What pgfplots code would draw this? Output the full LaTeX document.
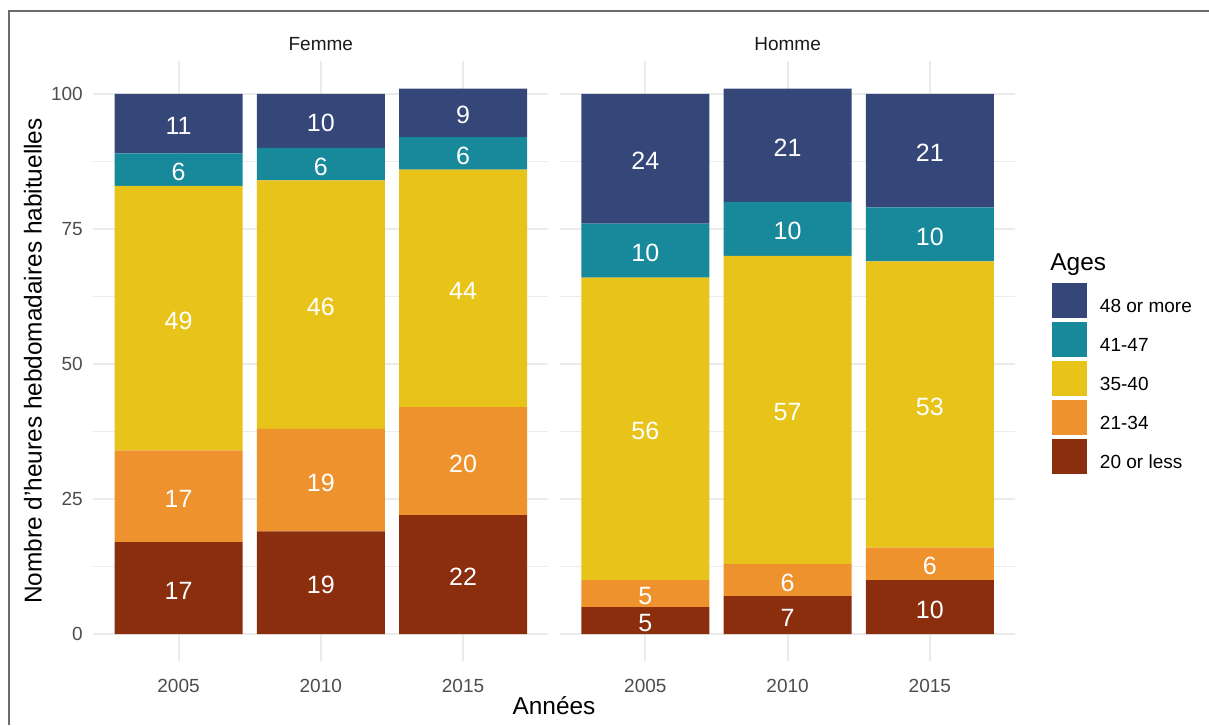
\documentclass[border=0pt]{standalone}
\usepackage{fontspec}
\setmainfont{Liberation Sans}
\usepackage{pgfplots}
\usepackage{pgfplotstable}
\pgfplotsset{compat=1.18}
\definecolor{cE}{HTML}{344778}
\definecolor{cD}{HTML}{17899A}
\definecolor{cC}{HTML}{E8C31A}
\definecolor{cB}{HTML}{EE922E}
\definecolor{cA}{HTML}{8A2E0E}
\definecolor{gridc}{HTML}{EBEBEB}
\definecolor{tickc}{HTML}{4D4D4D}
\definecolor{stripc}{HTML}{1A1A1A}
\definecolor{framec}{HTML}{6B6B6B}

% a = 20 or less, b = 21-34, c = 35-40, d = 41-47, e = 48 or more
\pgfplotstableread{
x a b c d e
1 17 17 49 6 11
2 19 19 46 6 10
3 22 20 44 6 9
}\femme
\pgfplotstableread{
x a b c d e
1 5 5 56 10 24
2 7 6 57 10 21
3 10 6 53 10 21
}\homme

\newcommand\addmids[1]{%
\pgfplotstablecreatecol[create col/expr={\thisrow{a}/2}]{ma}#1%
\pgfplotstablecreatecol[create col/expr={\thisrow{a}+\thisrow{b}/2}]{mb}#1%
\pgfplotstablecreatecol[create col/expr={\thisrow{a}+\thisrow{b}+\thisrow{c}/2}]{mc}#1%
\pgfplotstablecreatecol[create col/expr={\thisrow{a}+\thisrow{b}+\thisrow{c}+\thisrow{d}/2}]{md}#1%
\pgfplotstablecreatecol[create col/expr={\thisrow{a}+\thisrow{b}+\thisrow{c}+\thisrow{d}+\thisrow{e}/2}]{me}#1%
}
\addmids\femme
\addmids\homme

\pgfplotsset{
  panel/.style={
    scale only axis, width=227.6pt, height=300pt,
    xmin=0.4, xmax=3.6, ymin=-5.05, ymax=106.05,
    xtick={1,2,3}, xticklabels={2005,2010,2015},
    ytick={0,25,50,75,100}, minor ytick={12.5,37.5,62.5,87.5},
    grid=both,
    major grid style={gridc, line width=1pt},
    minor grid style={gridc, line width=0.5pt},
    axis line style={draw=none},
    major tick length=0pt, minor tick length=0pt,
    tick style={draw=none},
    tick label style={font=\fontsize{9.5}{11}\selectfont, text=tickc, inner sep=0pt},
    xticklabel style={yshift=-8.8pt},
    yticklabel style={xshift=-5pt},
    /pgf/number format/assume math mode=true,
    title style={font=\fontsize{9.5}{11}\selectfont, text=stripc, at={(0.5,1)}, anchor=center, yshift=2.65pt, inner sep=0pt},
    ybar stacked, bar width=0.9,
  },
  sqlegend/.style={legend image code/.code={\fill[##1,draw=none] (0pt,-5.35pt) rectangle (17.5pt,12.15pt);}},
  labels/.style={
    scale only axis, width=227.6pt, height=300pt,
    xmin=0.4, xmax=3.6, ymin=-5.05, ymax=106.05,
    hide axis,
    nodes near coords, point meta=explicit symbolic,
    every node near coord/.append style={text=white, anchor=center, inner sep=0pt, yshift=-1.2pt, font=\fontsize{12.5}{14}\selectfont},
  },
}

\begin{document}
\begin{tikzpicture}
\path[use as bounding box] (0pt,0pt) rectangle (604.5pt,362.5pt);
\draw[framec, line width=1pt] (4.6pt,0pt) -- (4.6pt,357pt) -- (604.5pt,357pt);

% Femme panel
\begin{axis}[panel, at={(46.6pt,31.85pt)}, anchor=south west, title=Femme]
\addplot[fill=cA, draw=none] table[x=x,y=a]{\femme};
\addplot[fill=cB, draw=none] table[x=x,y=b]{\femme};
\addplot[fill=cC, draw=none] table[x=x,y=c]{\femme};
\addplot[fill=cD, draw=none] table[x=x,y=d]{\femme};
\addplot[fill=cE, draw=none] table[x=x,y=e]{\femme};
\end{axis}
\begin{axis}[labels, at={(46.6pt,31.85pt)}, anchor=south west]
\addplot[draw=none] table[x=x,y=ma,meta=a]{\femme};
\addplot[draw=none] table[x=x,y=mb,meta=b]{\femme};
\addplot[draw=none] table[x=x,y=mc,meta=c]{\femme};
\addplot[draw=none] table[x=x,y=md,meta=d]{\femme};
\addplot[draw=none] table[x=x,y=me,meta=e]{\femme};
\end{axis}

% Homme panel
\begin{axis}[panel, at={(280pt,31.85pt)}, anchor=south west, title=Homme,
  yticklabels={},
  reverse legend, legend cell align=left,
  legend style={at={(axis description cs:1.0808,0.6305)}, anchor=north west,
    draw=none, fill=none, inner sep=0pt, outer sep=0pt, row sep=2pt,
    nodes={inner sep=0pt, text=black, font=\fontsize{9.5}{11}\selectfont},
    /tikz/every odd column/.append style={column sep=6.5pt}}]
\addplot[sqlegend, fill=cA, draw=none] table[x=x,y=a]{\homme};
\addlegendentry{20 or less}
\addplot[sqlegend, fill=cB, draw=none] table[x=x,y=b]{\homme};
\addlegendentry{21-34}
\addplot[sqlegend, fill=cC, draw=none] table[x=x,y=c]{\homme};
\addlegendentry{35-40}
\addplot[sqlegend, fill=cD, draw=none] table[x=x,y=d]{\homme};
\addlegendentry{41-47}
\addplot[sqlegend, fill=cE, draw=none] table[x=x,y=e]{\homme};
\addlegendentry{48 or more}
\end{axis}
\begin{axis}[labels, at={(280pt,31.85pt)}, anchor=south west]
\addplot[draw=none] table[x=x,y=ma,meta=a]{\homme};
\addplot[draw=none] table[x=x,y=mb,meta=b]{\homme};
\addplot[draw=none] table[x=x,y=mc,meta=c]{\homme};
\addplot[draw=none] table[x=x,y=md,meta=d]{\homme};
\addplot[draw=none] table[x=x,y=me,meta=e]{\homme};
\end{axis}

\node[anchor=west, inner sep=0pt, font=\fontsize{12.2}{14}\selectfont] at (525pt,230pt) {Ages};
\node[rotate=90, inner sep=0pt, font=\fontsize{12.2}{14}\selectfont] at (16.5pt,182pt) {Nombre d'heures hebdomadaires habituelles};
\node[inner sep=0pt, font=\fontsize{12.2}{14}\selectfont] at (277pt,9.5pt) {Années};
\end{tikzpicture}
\end{document}
